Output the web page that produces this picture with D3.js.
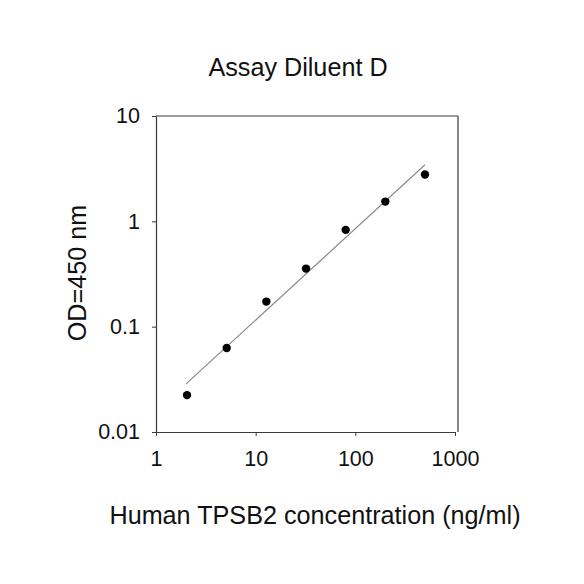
<!DOCTYPE html>
<html>
<head>
<meta charset="utf-8">
<script src="https://cdn.jsdelivr.net/npm/d3@7"></script>
<style>
  html, body { margin: 0; padding: 0; background: #fff; }
  svg { display: block; font-family: "Liberation Sans", Arial, sans-serif; }
</style>
</head>
<body>
<svg id="chart" width="584" height="584"></svg>
<script>
// Data
const concentrations = [2.048, 5.12, 12.8, 32, 80, 200, 500];
const odValues = [0.0224, 0.0627, 0.173, 0.356, 0.83, 1.54, 2.78];
const fitX = [2, 500];
const fitY = [0.0286, 3.44];
const xTicks = [1, 10, 100, 1000];
const xTickLabels = ["1", "10", "100", "1000"];
const yTicks = [0.01, 0.1, 1, 10];
const yTickLabels = ["0.01", "0.1", "1", "10"];
const titleText = "Assay Diluent D";
const xLabelText = "Human TPSB2 concentration (ng/ml)";
const yLabelText = "OD=450 nm";

const svg = d3.select("#chart");
const margin = { left: 156, right: 455, top: 116, bottom: 432 };

const x = d3.scaleLog().domain([1, 1000]).range([margin.left, margin.right]);
const y = d3.scaleLog().domain([0.01, 10]).range([margin.bottom, margin.top]);

const axisColor = "#3a3a3a";

// Frame top/right
const frameRight = x(1000) + 3;
svg.append("line")
  .attr("x1", x(1)).attr("x2", frameRight)
  .attr("y1", y(10)).attr("y2", y(10))
  .attr("stroke", axisColor).attr("stroke-width", 1.2);
svg.append("line")
  .attr("x1", frameRight).attr("x2", frameRight)
  .attr("y1", y(10)).attr("y2", y(0.01))
  .attr("stroke", axisColor).attr("stroke-width", 1.2);

// X axis
const xAxis = svg.append("g")
  .attr("transform", `translate(0,${y(0.01)})`)
  .call(d3.axisBottom(x).tickValues(xTicks)
    .tickFormat((d, i) => xTickLabels[i]).tickSize(4).tickSizeOuter(0).tickPadding(15));
// Y axis
const yAxis = svg.append("g")
  .attr("transform", `translate(${x(1)},0)`)
  .call(d3.axisLeft(y).tickValues(yTicks)
    .tickFormat((d, i) => yTickLabels[i]).tickSize(4).tickSizeOuter(0).tickPadding(12));

[xAxis, yAxis].forEach(g => {
  g.select(".domain").attr("stroke", axisColor).attr("stroke-width", 1.2);
  g.selectAll(".tick line").attr("stroke", axisColor).attr("stroke-width", 1);
  g.selectAll(".tick text")
    .attr("font-size", 21.5)
    .attr("font-family", "Liberation Sans, Arial, sans-serif")
    .attr("fill", "#111");
});

// Fit line
svg.append("path")
  .datum(fitX.map((d, i) => [d, fitY[i]]))
  .attr("fill", "none")
  .attr("stroke", "#8a8a8a")
  .attr("stroke-width", 1.2)
  .attr("d", d3.line().x(d => x(d[0])).y(d => y(d[1])));

// Points
svg.append("g").selectAll("circle")
  .data(concentrations.map((d, i) => [d, odValues[i]]))
  .join("circle")
  .attr("cx", d => x(d[0]))
  .attr("cy", d => y(d[1]))
  .attr("r", 4.2)
  .attr("fill", "#000");

// Title
svg.append("text")
  .attr("x", 298).attr("y", 76)
  .attr("text-anchor", "middle")
  .attr("font-size", 25.2)
  .attr("fill", "#111")
  .text(titleText);

// X label
svg.append("text")
  .attr("x", 315).attr("y", 524)
  .attr("text-anchor", "middle")
  .attr("font-size", 25.2)
  .attr("fill", "#111")
  .text(xLabelText);

// Y label
svg.append("text")
  .attr("transform", "translate(86,273) rotate(-90)")
  .attr("text-anchor", "middle")
  .attr("font-size", 25.2)
  .attr("fill", "#111")
  .text(yLabelText);
</script>
</body>
</html>
